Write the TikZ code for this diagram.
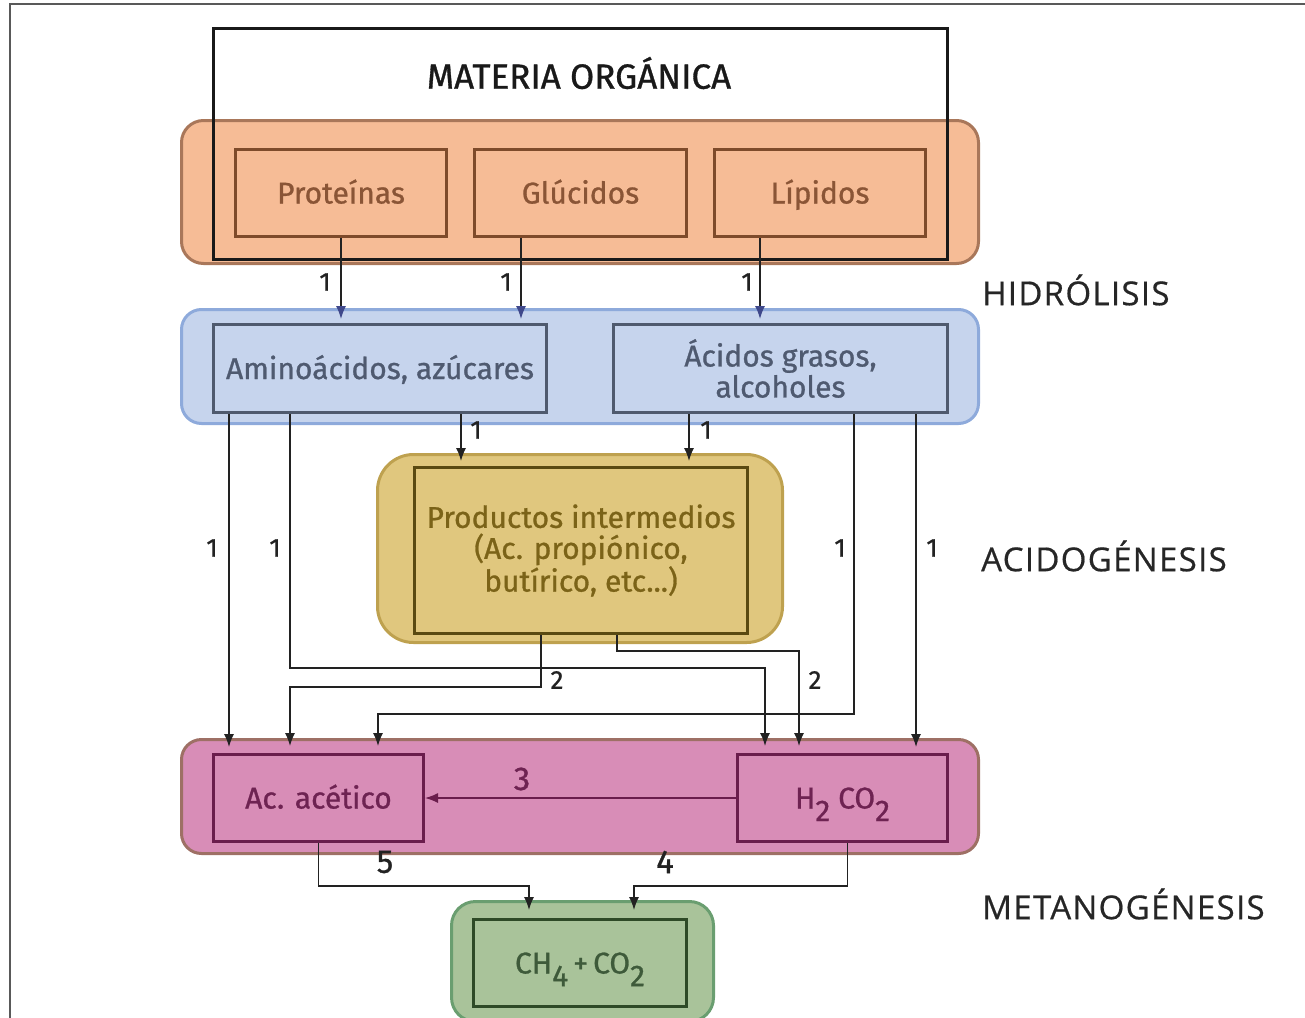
\documentclass[tikz,border=0pt]{standalone}
\usepackage{fontspec}
\setmainfont{Fira Sans}[FakeBold=0.9]
\newfontfamily\stagefont{Open Sans}[LetterSpace=4,FakeBold=0.6]
\usetikzlibrary{arrows.meta,calc}
\definecolor{orangeF}{HTML}{F6BC96}
\definecolor{orangeD}{HTML}{A9775A}
\definecolor{orangeB}{HTML}{7E4B2B}
\definecolor{orangeT}{HTML}{8A5536}
\definecolor{blueF}{HTML}{C6D4ED}
\definecolor{blueD}{HTML}{8EAADB}
\definecolor{blueB}{HTML}{4F5A6E}
\definecolor{blueT}{HTML}{4F5A70}
\definecolor{yelF}{HTML}{E0C77E}
\definecolor{yelD}{HTML}{BEA14F}
\definecolor{yelB}{HTML}{5A4A12}
\definecolor{yelT}{HTML}{7B6318}
\definecolor{pinkF}{HTML}{D88DB7}
\definecolor{pinkD}{HTML}{9E7065}
\definecolor{pinkB}{HTML}{6A1D4C}
\definecolor{pinkT}{HTML}{6E2352}
\definecolor{greenF}{HTML}{A9C39A}
\definecolor{greenD}{HTML}{6A9E70}
\definecolor{greenB}{HTML}{2E4A27}
\definecolor{greenT}{HTML}{3E5A3A}
\definecolor{lineC}{HTML}{222222}
\newcommand\lowsub[1]{\raisebox{-0.42em}{#1}}
\tikzset{
  cont/.style={line width=3pt, anchor=north west, inner sep=0pt},
  inbox/.style={draw, line width=3pt, anchor=north west, inner sep=0pt, align=center,
    font=\fontsize{30pt}{31pt}\selectfont},
  oneline/.style={text height=21pt, text depth=0pt},
  arr/.style={draw=lineC, line width=1.4pt, -{Latex[length=13pt,width=10pt]}},
  num/.style={font=\fontsize{26pt}{26pt}\selectfont, text=lineC, inner sep=0pt},
  bignum/.style={font=\fontsize{33pt}{33pt}\selectfont, inner sep=0pt},
  stage/.style={font=\stagefont\fontsize{33pt}{33pt}\selectfont, text=black!85, anchor=west, inner sep=0pt}
}
\begin{document}
\begin{tikzpicture}[x=1pt,y=-1pt]
\useasboundingbox (0,0) rectangle (1305,1017);
% outer frame
\draw[line width=2.5pt, draw=black!65] (10,1020) -- (10,4) -- (1310,4);

% hydrolysis container
\node[cont, fill=orangeF, draw=orangeD, rounded corners=22pt, minimum width=797pt, minimum height=143pt] (hydc) at (180,119) {};
\node[draw=black!90, line width=2.5pt, anchor=north west, inner sep=0pt, minimum width=734pt, minimum height=231pt] (mat) at (212,27) {};
\node[font=\fontsize{35pt}{35pt}\selectfont, text=black!90] (matl) at (579,73) {MATERIA ORGÁNICA};
\node[inbox, oneline, draw=orangeB, text=orangeT, minimum width=211pt, minimum height=87pt] (prot) at (234,148) {Proteínas};
\node[inbox, oneline, draw=orangeB, text=orangeT, minimum width=212pt, minimum height=87pt] (gluc) at (473,148) {Glúcidos};
\node[inbox, oneline, draw=orangeB, text=orangeT, minimum width=211pt, minimum height=87pt] (lip) at (713,148) {Lípidos};

% acidogenesis container (blue)
\node[cont, fill=blueF, draw=blueD, rounded corners=20pt, minimum width=797pt, minimum height=114pt] (aminc) at (180,308) {};
\node[inbox, oneline, draw=blueB, text=blueT, minimum width=333pt, minimum height=88pt] (amino) at (212,323) {Aminoácidos, azúcares};
\node[inbox, draw=blueB, text=blueT, minimum width=334pt, minimum height=88pt] (acid) at (612,323) {Ácidos grasos,\\alcoholes};

% yellow container
\node[cont, fill=yelF, draw=yelD, rounded corners=36pt, minimum width=405pt, minimum height=188pt] (yelc) at (376,453) {};
\node[inbox, draw=yelB, text=yelT, minimum width=333pt, minimum height=166pt] (prod) at (413,466) {Productos intermedios\\(Ac. propiónico,\\butírico, etc...)};

% pink container
\node[cont, fill=pinkF, draw=pinkD, rounded corners=20pt, minimum width=797pt, minimum height=114pt] (pinkc) at (180,738) {};
\node[inbox, oneline, draw=pinkB, text=pinkT, minimum width=210pt, minimum height=87pt] (acet) at (212,753) {Ac. acético};
\node[inbox, oneline, draw=pinkB, text=pinkT, minimum width=210pt, minimum height=87pt] (h2) at (736,753) {H\lowsub{2} CO\lowsub{2}};

% green container
\node[cont, fill=greenF, draw=greenD, rounded corners=24pt, minimum width=262pt, minimum height=120pt] (greenc) at (450,900) {};
\node[inbox, oneline, draw=greenB, text=greenT, minimum width=213pt, minimum height=87pt] (ch4) at (472,918) {CH\lowsub{4}\,+\,CO\lowsub{2}};

% stage labels
\node[stage] (s1) at (982,290) {HIDRÓLISIS};
\node[stage] (s2) at (981,556) {ACIDOGÉNESIS};
\node[stage] (s3) at (982,904) {METANOGÉNESIS};

% hydrolysis arrows
\tikzset{barr/.style={arr, -{Latex[length=13pt,width=10pt,color=blueB!80!blue]}}}
\draw[barr] (prot.south) -- ($(prot.south |- aminc.north)+(0,11)$);
\draw[barr] ($(gluc.south west)+(48,0)$) -- ($(gluc.south west |- aminc.north)+(48,11)$);
\draw[barr] ($(lip.south west)+(47,0)$) -- ($(lip.south west |- aminc.north)+(47,11)$);
\node[num] (n1) at (325,282) {1};
\node[num] (n2) at (506,282) {1};
\node[num] (n3) at (747,282) {1};

% acidogenesis arrows
\draw[arr] ($(amino.south west)+(17,0)$) -- ($(amino.south west |- pinkc.north)+(17,9)$);
\draw[arr] ($(amino.south west)+(78,0)$) -- ++(0,254) -| ($(h2.north west)+(29,-7)$);
\draw[arr] ($(amino.south west)+(249,0)$) -- ($(amino.south west |- yelc.north)+(249,8)$);
\draw[arr] ($(acid.south west)+(77,0)$) -- ($(acid.south west |- yelc.north)+(77,8)$);
\draw[arr] ($(acid.south west)+(242,0)$) -- ++(0,300) -| ($(acet.north west)+(166,-7)$);
\draw[arr] ($(acid.south west)+(304,0)$) -- ($(acid.south west |- pinkc.north)+(304,9)$);
\node[num] (n4) at (212,548) {1};
\node[num] (n5) at (275,548) {1};
\node[num] (n6) at (840,548) {1};
\node[num] (n7) at (932,548) {1};
\node[num] (n8) at (476,430) {1};
\node[num] (n9) at (706,430) {1};

% intermediates to acetogenesis
\draw[arr] ($(prod.south west)+(128,0)$) -- ++(0,52) -| ($(acet.north west)+(78,-7)$);
\draw[arr] ($(prod.south west)+(204,0)$) -- ++(0,16) -| ($(h2.north west)+(63,-7)$);
\node[num] (n10) at (557,680) {2};
\node[num] (n11) at (815,680) {2};

% methanogenesis
\draw[draw=pinkB, line width=1.4pt, -{Latex[length=13pt,width=10pt]}] (h2.west) -- (acet.east);
\node[bignum, text=pinkT] (n12) at (522,779) {3};
\draw[arr] (acet.south) -- ++(0,43) -| ($(ch4.north west)+(57,-8)$);
\draw[arr] ($(h2.south)+(5,0)$) -- ++(0,43) -| ($(ch4.north west)+(162,-8)$);
\node[bignum, text=lineC] (n13) at (385,862) {5};
\node[bignum, text=lineC] (n14) at (665,862) {4};
\end{tikzpicture}
\end{document}
